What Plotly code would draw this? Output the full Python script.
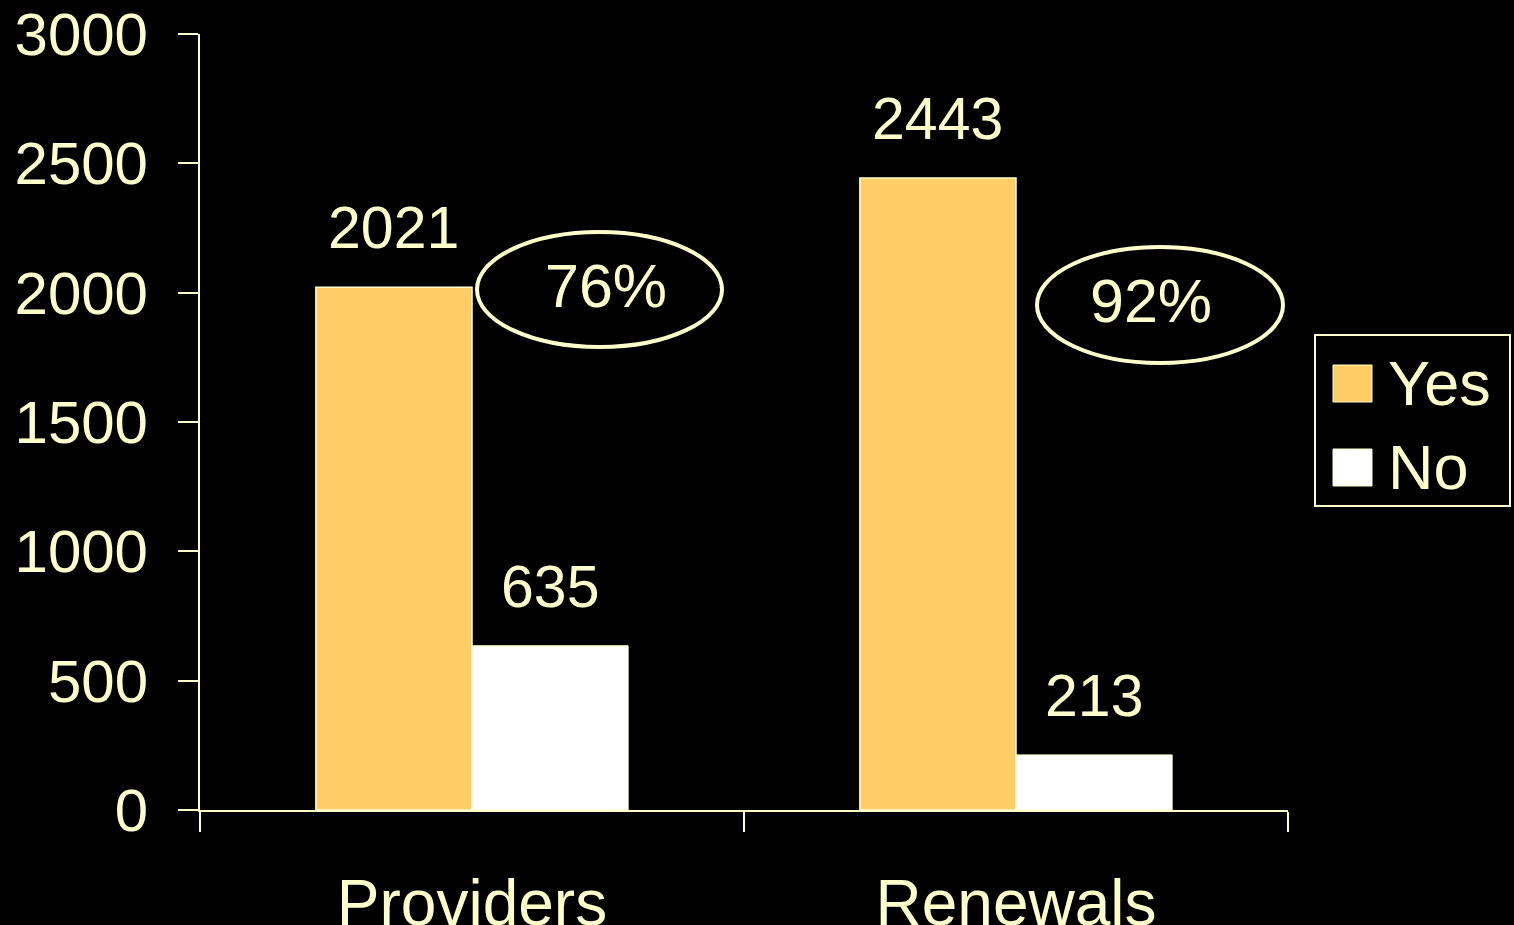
import plotly.graph_objects as go

categories = ["Providers", "Renewals"]
yes_values = [2021, 2443]
no_values = [635, 213]
share_labels = ["76%", "92%"]

TEXT = "#FFFFCC"
FONT = "Liberation Sans, Arial, sans-serif"
BARGAP = 0.426

W, H = 1514, 925
L, R, T, B = 200, 226, 34, 115
pw, ph = W - L - R, H - T - B


def px(x):
    return (x - L) / pw


def py(y):
    return (H - B - y) / ph


fig = go.Figure()
fig.add_trace(go.Bar(
    x=categories, y=yes_values, name="Yes",
    marker=dict(color="#FFCC66", line=dict(color=TEXT, width=1.5)),
    showlegend=False,
))
fig.add_trace(go.Bar(
    x=categories, y=no_values, name="No",
    marker=dict(color="#FFFFFF", line=dict(color=TEXT, width=1)),
    showlegend=False,
))

off = (1 - BARGAP) / 4
annotations = []
for i in range(len(categories)):
    annotations.append(dict(x=i - off, y=yes_values[i], text=str(yes_values[i]),
                            yshift=59, showarrow=False, xanchor="center", yanchor="middle",
                            font=dict(size=59, color=TEXT, family=FONT)))
    annotations.append(dict(x=i + off, y=no_values[i], text=str(no_values[i]),
                            yshift=59, showarrow=False, xanchor="center", yanchor="middle",
                            font=dict(size=59, color=TEXT, family=FONT)))

# ellipses with the share of "Yes"
ellipses = [(477, 232, 722, 347), (1037, 247, 1283, 363)]
text_dx = [6, -9]
shapes = []
for (x0, y0, x1, y1), lab, dx in zip(ellipses, share_labels, text_dx):
    shapes.append(dict(type="circle", xref="paper", yref="paper",
                       x0=px(x0), x1=px(x1), y0=py(y1), y1=py(y0),
                       line=dict(color=TEXT, width=4)))
    annotations.append(dict(xref="paper", yref="paper",
                            x=px((x0 + x1) / 2 + dx), y=py((y0 + y1) / 2 - 4),
                            xanchor="center", yanchor="middle",
                            text=lab, showarrow=False,
                            font=dict(size=61, color=TEXT, family=FONT)))

# hand-made legend
shapes.append(dict(type="rect", xref="paper", yref="paper",
                   x0=px(1315), x1=px(1510), y0=py(506), y1=py(335),
                   line=dict(color=TEXT, width=2)))
for (name, col, ytop) in [("Yes", "#FFCC66", 365), ("No", "#FFFFFF", 449)]:
    shapes.append(dict(type="rect", xref="paper", yref="paper",
                       x0=px(1333), x1=px(1372), y0=py(ytop + 37), y1=py(ytop),
                       fillcolor=col, line=dict(color=TEXT, width=1)))
    annotations.append(dict(xref="paper", yref="paper", x=px(1386),
                            y=py(ytop + 18), xanchor="left", yanchor="middle",
                            text=name, showarrow=False,
                            font=dict(size=63, color=TEXT, family=FONT)))

fig.update_layout(
    width=W, height=H,
    margin=dict(l=L, r=R, t=T, b=B, autoexpand=False),
    paper_bgcolor="black", plot_bgcolor="black",
    barmode="group", bargap=BARGAP, bargroupgap=0,
    font=dict(family=FONT, color=TEXT),
    shapes=shapes, annotations=annotations,
)
fig.update_xaxes(
    range=[-0.5, 1.5], showline=True, linecolor=TEXT, linewidth=2,
    ticks="outside", tickson="boundaries", ticklen=20, tickwidth=2, tickcolor=TEXT,
    tickfont=dict(size=64, color=TEXT, family=FONT), showgrid=False,
    ticklabelstandoff=36, automargin=False,
)
fig.update_yaxes(
    range=[0, 3000], dtick=500, showline=True, linecolor=TEXT, linewidth=2,
    ticks="outside", ticklen=20, tickwidth=2, tickcolor=TEXT,
    tickfont=dict(size=60, color=TEXT, family=FONT), showgrid=False,
    zeroline=False, ticklabelstandoff=18, automargin=False,
)

fig.write_html("out.html", config=dict(displayModeBar=False),
               post_script="document.body.style.margin='0';document.body.style.background='black';")
